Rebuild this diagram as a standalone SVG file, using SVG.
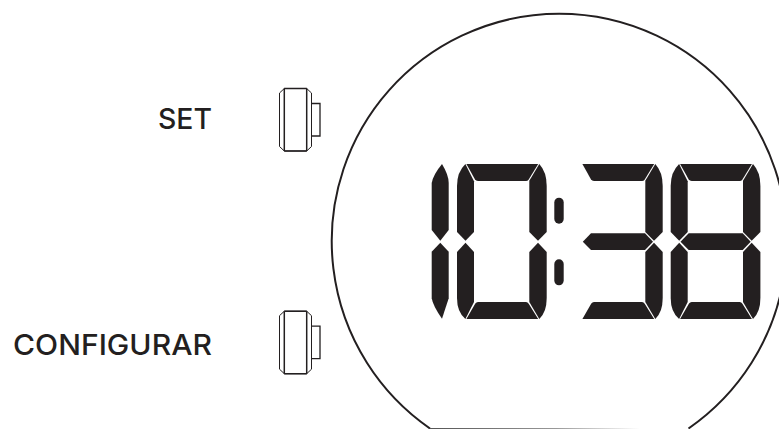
<svg xmlns="http://www.w3.org/2000/svg" width="779" height="429" viewBox="0 0 779 429">
  <style>
    .seg { fill: #231f20; }
    .ln { fill: none; stroke: #231f20; }
    .lbl { font-family: "Inter", "Liberation Sans", sans-serif; font-size: 28.5px; font-weight: 500; fill: #231f20; text-anchor: end; }
  </style>
  <defs>
    <linearGradient id="fade" gradientUnits="userSpaceOnUse" x1="430" y1="0" x2="640" y2="0">
      <stop offset="0" stop-color="#555"/>
      <stop offset="0.6" stop-color="#999"/>
      <stop offset="1" stop-color="#fff"/>
    </linearGradient>
    <path id="a" class="seg" d="M466.4 164L538.2 164L528.7 179.5Q527.7 181 526 181L478 181Q476 181 474.9 179.3Z"/>
    <path id="b" class="seg" d="M539.3 164Q546.7 172 546.7 186L546.7 232L538 240.7L529.3 232L529.3 180.8Z"/>
    <path id="c" class="seg" d="M538 242.8L546.7 252L546.7 298Q546.7 312 539.3 319L529.3 302L529.3 252Z"/>
    <path id="d" class="seg" d="M466.4 319L475.3 303.5Q476.3 302 478 302L526 302Q527.7 302 528.7 303.8L538.2 319Z"/>
    <path id="e" class="seg" d="M465.5 242.8L474 252L474 302L465.4 319Q457 312 457 298L457 252Z"/>
    <path id="f" class="seg" d="M465.4 164Q457 172 457 186L457 232L465.5 240.7L474 232L474 181.2Z"/>
    <path id="g" class="seg" d="M466.8 241.7L475 233.3L529 233.3L537 241.7L529 250L475 250Z"/>
    <g id="button">
      <path class="ln" stroke-width="1" d="M284.3 88.5L306.7 88.5L311.5 93L311.5 146.5L306.7 151L284.3 151L279.5 146.5L279.5 93Z"/>
      <path class="ln" stroke-width="1.5" d="M284.3 88.5L284.3 151M306.7 88.5L306.7 151M284.3 88.5L306.7 88.5M284.3 151L306.7 151"/>
      <path class="ln" stroke-width="1.3" d="M311.5 103.5L320 103.5L320 136L311.5 136"/>
    </g>
  </defs>
  <rect width="779" height="429" fill="#fff"/>
  <g id="watch-face">
    <path class="ln" stroke-width="2" d="M430 428.5A227.5 227.5 0 1 1 688.5 428.5"/>
    <line x1="430" y1="428.5" x2="640" y2="428.5" stroke="url(#fade)" stroke-width="1"/>
  </g>
  <g id="digit-1">
    <path class="seg" d="M442 164Q448.7 175 448.7 183L448.7 230L440.3 240.7L431.7 230L431.7 183Q433 175 442 164Z"/>
    <path class="seg" d="M440.3 242.7L448.7 251.7L448.7 298.3L442 318.7Q433 306 431.7 298.3L431.7 251.7Z"/>
  </g>
  <g id="digit-0">
    <use href="#a"/><use href="#b"/><use href="#c"/><use href="#d"/><use href="#e"/><use href="#f"/>
  </g>
  <g id="colon">
    <rect class="seg" x="554.3" y="197.7" width="9.4" height="26" rx="4.7"/>
    <rect class="seg" x="554.3" y="259.3" width="9.4" height="26" rx="4.7"/>
  </g>
  <g id="digit-3" transform="translate(116 0)">
    <use href="#a"/><use href="#b"/><use href="#c"/><use href="#d"/><use href="#g"/>
  </g>
  <g id="digit-8" transform="translate(213.7 0)">
    <use href="#a"/><use href="#b"/><use href="#c"/><use href="#d"/><use href="#e"/><use href="#f"/><use href="#g"/>
  </g>
  <g id="button-set"><use href="#button"/></g>
  <g id="button-configurar" transform="translate(0 222.7)"><use href="#button"/></g>
  <g id="label-set"><text class="lbl" x="212" y="129" textLength="54" lengthAdjust="spacingAndGlyphs">SET</text></g>
  <g id="label-configurar"><text class="lbl" x="212" y="355" textLength="199" lengthAdjust="spacingAndGlyphs">CONFIGURAR</text></g>
</svg>
